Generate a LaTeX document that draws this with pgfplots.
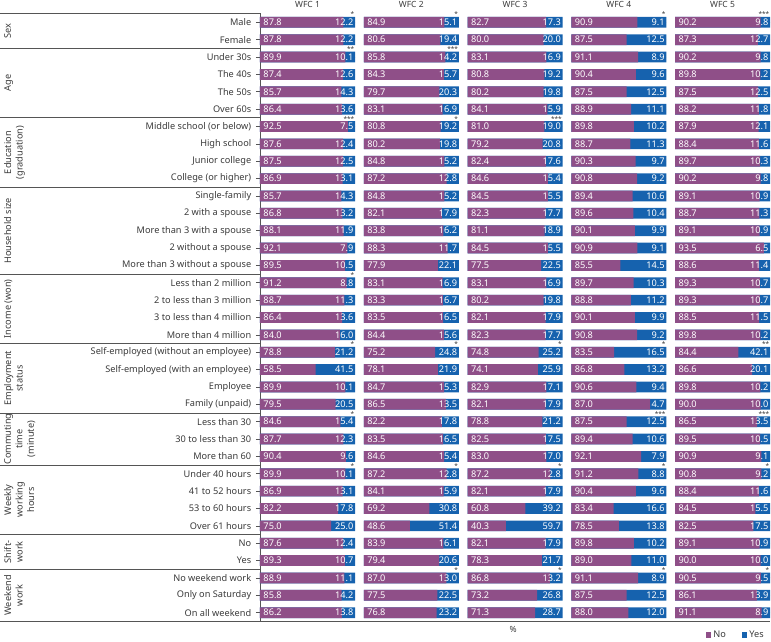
\documentclass[border=0pt]{standalone}
\usepackage{fontspec}
\setmainfont{Noto Sans}
\usepackage{pgfplots}
\pgfplotsset{compat=1.18}
\usepackage{pgfplotstable}

\definecolor{nocol}{HTML}{8F4F88}
\definecolor{yescol}{HTML}{1662AE}
\definecolor{txt}{HTML}{3A3A3A}
\definecolor{linecol}{HTML}{555555}
\newcommand{\fs}{\fontsize{9.2}{11.5}\selectfont}

\pgfplotstableread{
y no yes
0 87.8 12.2
1 87.8 12.2
2 89.9 10.1
3 87.4 12.6
4 85.7 14.3
5 86.4 13.6
6 92.5 7.5
7 87.6 12.4
8 87.5 12.5
9 86.9 13.1
10 85.7 14.3
11 86.8 13.2
12 88.1 11.9
13 92.1 7.9
14 89.5 10.5
15 91.2 8.8
16 88.7 11.3
17 86.4 13.6
18 84.0 16.0
19 78.8 21.2
20 58.5 41.5
21 89.9 10.1
22 79.5 20.5
23 84.6 15.4
24 87.7 12.3
25 90.4 9.6
26 89.9 10.1
27 86.9 13.1
28 82.2 17.8
29 75.0 25.0
30 87.6 12.4
31 89.3 10.7
32 88.9 11.1
33 85.8 14.2
34 86.2 13.8
}\wfcA

\pgfplotstableread{
y no yes
0 84.9 15.1
1 80.6 19.4
2 85.8 14.2
3 84.3 15.7
4 79.7 20.3
5 83.1 16.9
6 80.8 19.2
7 80.2 19.8
8 84.8 15.2
9 87.2 12.8
10 84.8 15.2
11 82.1 17.9
12 83.8 16.2
13 88.3 11.7
14 77.9 22.1
15 83.1 16.9
16 83.3 16.7
17 83.5 16.5
18 84.4 15.6
19 75.2 24.8
20 78.1 21.9
21 84.7 15.3
22 86.5 13.5
23 82.2 17.8
24 83.5 16.5
25 84.6 15.4
26 87.2 12.8
27 84.1 15.9
28 69.2 30.8
29 48.6 51.4
30 83.9 16.1
31 79.4 20.6
32 87.0 13.0
33 77.5 22.5
34 76.8 23.2
}\wfcB

\pgfplotstableread{
y no yes
0 82.7 17.3
1 80.0 20.0
2 83.1 16.9
3 80.8 19.2
4 80.2 19.8
5 84.1 15.9
6 81.0 19.0
7 79.2 20.8
8 82.4 17.6
9 84.6 15.4
10 84.5 15.5
11 82.3 17.7
12 81.1 18.9
13 84.5 15.5
14 77.5 22.5
15 83.1 16.9
16 80.2 19.8
17 82.1 17.9
18 82.3 17.7
19 74.8 25.2
20 74.1 25.9
21 82.9 17.1
22 82.1 17.9
23 78.8 21.2
24 82.5 17.5
25 83.0 17.0
26 87.2 12.8
27 82.1 17.9
28 60.8 39.2
29 40.3 59.7
30 82.1 17.9
31 78.3 21.7
32 86.8 13.2
33 73.2 26.8
34 71.3 28.7
}\wfcC

\pgfplotstableread{
y no yes
0 90.9 9.1
1 87.5 12.5
2 91.1 8.9
3 90.4 9.6
4 87.5 12.5
5 88.9 11.1
6 89.8 10.2
7 88.7 11.3
8 90.3 9.7
9 90.8 9.2
10 89.4 10.6
11 89.6 10.4
12 90.1 9.9
13 90.9 9.1
14 85.5 14.5
15 89.7 10.3
16 88.8 11.2
17 90.1 9.9
18 90.8 9.2
19 83.5 16.5
20 86.8 13.2
21 90.6 9.4
22 87.0 4.7
23 87.5 12.5
24 89.4 10.6
25 92.1 7.9
26 91.2 8.8
27 90.4 9.6
28 83.4 16.6
29 78.5 13.8
30 89.8 10.2
31 89.0 11.0
32 91.1 8.9
33 87.5 12.5
34 88.0 12.0
}\wfcD

\pgfplotstableread{
y no yes
0 90.2 9.8
1 87.3 12.7
2 90.2 9.8
3 89.8 10.2
4 87.5 12.5
5 88.2 11.8
6 87.9 12.1
7 88.4 11.6
8 89.7 10.3
9 90.2 9.8
10 89.1 10.9
11 88.7 11.3
12 89.1 10.9
13 93.5 6.5
14 88.6 11.4
15 89.3 10.7
16 89.3 10.7
17 88.5 11.5
18 89.8 10.2
19 84.4 42.1
20 86.6 20.1
21 89.8 10.2
22 90.0 10.0
23 86.5 13.5
24 89.5 10.5
25 90.9 9.1
26 90.8 9.2
27 88.4 11.6
28 84.5 15.5
29 82.5 17.5
30 89.1 10.9
31 90.0 10.0
32 90.5 9.5
33 86.1 13.9
34 91.1 8.9
}\wfcE

\pgfplotstableread{
y s
0 *
2 **
6 ***
15 *
19 *
23 *
26 *
}\starA
\pgfplotstableread{
y s
0 *
2 ***
6 *
19 *
26 *
32 *
}\starB
\pgfplotstableread{
y s
6 ***
19 *
26 *
32 *
}\starC
\pgfplotstableread{
y s
0 *
19 *
23 ***
26 *
32 *
}\starD
\pgfplotstableread{
y s
0 ***
19 **
23 ***
26 *
32 *
}\starE

\pgfplotsset{
  panel/.style={
    scale only axis, width=95pt, height=608.4pt,
    anchor=south west,
    ymin=-0.52, ymax=34.52, y dir=reverse,
    xmax=100,
    title style={font=\fontsize{8.5}{10}\selectfont, text=txt, at={(0.5,1)}, anchor=base, yshift=0pt},
  },
  yesbar/.style={xbar, bar width=10.7pt, fill=yescol, draw=none},
  nobar/.style={xbar, bar width=10.7pt, fill=nocol, draw=none},
  lab/.style={only marks, mark=*, mark size=0pt, mark options={draw=none,fill=none},
    point meta=explicit symbolic, nodes near coords={\pgfplotspointmeta},
    every node near coord/.append style={font=\fs, text=white, inner sep=0pt}, forget plot},
  starlab/.style={lab, every node near coord/.append style={font=\fontsize{6.5}{7}\selectfont, text=txt, anchor=base east, yshift=5.35pt, xshift=-0.5pt}},
}
\tikzset{
  sepline/.style={draw=linecol, line width=0.8pt},
  grp/.style={rotate=90, anchor=north, align=center, font=\fs, text=txt, inner sep=0pt},
}

\newcommand{\panelplots}[3]{%
  \addplot[yesbar] table[x expr=100, y=y] {#1};
  \addplot[nobar] table[x expr={100*\thisrow{no}/(\thisrow{no}+\thisrow{yes})}, y=y] {#1};
  \addplot[lab, every node near coord/.append style={anchor=west, xshift=3.3pt}] table[x expr=#2, y=y, meta=no] {#1};
  \addplot[lab, every node near coord/.append style={anchor=east, xshift=-1.4pt}] table[x expr=100, y=y, meta=yes] {#1};
  \addplot[starlab] table[x expr=100, y=y, meta=s] {#3};
}

\begin{document}
\begin{tikzpicture}
\path[use as bounding box] (0pt,0pt) rectangle (771pt,641pt);

% WFC 1
\begin{axis}[panel, at={(260pt,19.3pt)}, xmin=0, title={WFC 1}, clip=false,
  axis x line=none, axis y line*=left,
  y axis line style={draw=linecol, line width=0.9pt, -},
  ytick={0,...,34}, tick align=outside, major tick length=4pt,
  ytick style={draw=linecol, line width=0.7pt},
  yticklabel style={font=\fs, text=txt, inner sep=0pt, xshift=-4.6pt},
  yticklabels={Male,Female,Under 30s,The 40s,The 50s,Over 60s,Middle school (or below),High school,Junior college,College (or higher),Single-family,2 with a spouse,More than 3 with a spouse,2 without a spouse,More than 3 without a spouse,Less than 2 million,2 to less than 3 million,3 to less than 4 million,More than 4 million,Self-employed (without an employee),Self-employed (with an employee),Employee,Family (unpaid),Less than 30,30 to less than 30,More than 60,Under 40 hours,41 to 52 hours,53 to 60 hours,Over 61 hours,No,Yes,No weekend work,Only on Saturday,On all weekend}]
\panelplots{\wfcA}{0}{\starA}
\draw[sepline] (axis cs:0,-0.52) -- ++(-260pt,0pt);
\draw[sepline] (axis cs:0,1.5) -- ++(-260pt,0pt);
\draw[sepline] (axis cs:0,5.5) -- ++(-260pt,0pt);
\draw[sepline] (axis cs:0,9.5) -- ++(-260pt,0pt);
\draw[sepline] (axis cs:0,14.5) -- ++(-260pt,0pt);
\draw[sepline] (axis cs:0,18.5) -- ++(-260pt,0pt);
\draw[sepline] (axis cs:0,22.5) -- ++(-260pt,0pt);
\draw[sepline] (axis cs:0,25.5) -- ++(-260pt,0pt);
\draw[sepline] (axis cs:0,29.5) -- ++(-260pt,0pt);
\draw[sepline] (axis cs:0,31.5) -- ++(-260pt,0pt);
\draw[sepline] (axis cs:0,34.52) ++(-260pt,0pt) -- ++(770pt,0pt);
\node[grp] at ([xshift=-256pt]axis cs:0,0.5) {Sex};
\node[grp] at ([xshift=-256pt]axis cs:0,3.5) {Age};
\node[grp] at ([xshift=-256pt]axis cs:0,7.5) {Education\\(graduation)};
\node[grp] at ([xshift=-256pt]axis cs:0,12) {Household size};
\node[grp] at ([xshift=-256pt]axis cs:0,16.5) {Income (won)};
\node[grp] at ([xshift=-256pt]axis cs:0,20.5) {Employment\\status};
\node[grp] at ([xshift=-256pt]axis cs:0,24) {Commuting\\time\\(minute)};
\node[grp] at ([xshift=-256pt]axis cs:0,27.5) {Weekly\\working\\hours};
\node[grp] at ([xshift=-256pt]axis cs:0,30.5) {Shift-\\work};
\node[grp] at ([xshift=-256pt]axis cs:0,33) {Weekend\\work};
\end{axis}

% WFC 2
\begin{axis}[panel, at={(363.75pt,19.3pt)}, xmin=0, title={WFC 2}, hide axis]
\panelplots{\wfcB}{0}{\starB}
\end{axis}

% WFC 3
\begin{axis}[panel, at={(467.5pt,19.3pt)}, xmin=0, title={WFC 3}, hide axis, clip=false]
\panelplots{\wfcC}{0}{\starC}
\node[font=\fontsize{8.5}{10}\selectfont, text=txt, anchor=base] at ([yshift=-10.5pt]axis cs:48,34.52) {\%};
\end{axis}

% WFC 4
\begin{axis}[panel, at={(571.25pt,19.3pt)}, xmin=70, title={WFC 4}, hide axis]
\panelplots{\wfcD}{70}{\starD}
\end{axis}

% WFC 5
\begin{axis}[panel, at={(675pt,19.3pt)}, xmin=0, title={WFC 5}, hide axis,
  reverse legend,
  legend style={at={(1,0)}, anchor=north east, yshift=-7pt, xshift=-4pt, draw=none, fill=none,
    legend columns=2, font=\fs, text=txt, inner sep=0pt,
    /tikz/every even column/.append style={column sep=14pt}},
  legend image code/.code={\fill[#1,draw=none] (0pt,-2.8pt) rectangle (5.6pt,2.8pt);}]
\addplot[yesbar] table[x expr=100, y=y] {\wfcE};
\addlegendentry{Yes}
\addplot[nobar] table[x expr={100*\thisrow{no}/(\thisrow{no}+\thisrow{yes})}, y=y] {\wfcE};
\addlegendentry{No}
\addplot[lab, every node near coord/.append style={anchor=west, xshift=3.3pt}] table[x expr=0, y=y, meta=no] {\wfcE};
\addplot[lab, every node near coord/.append style={anchor=east, xshift=-1.4pt}] table[x expr=100, y=y, meta=yes] {\wfcE};
\addplot[starlab] table[x expr=100, y=y, meta=s] {\starE};
\end{axis}
\end{tikzpicture}
\end{document}
